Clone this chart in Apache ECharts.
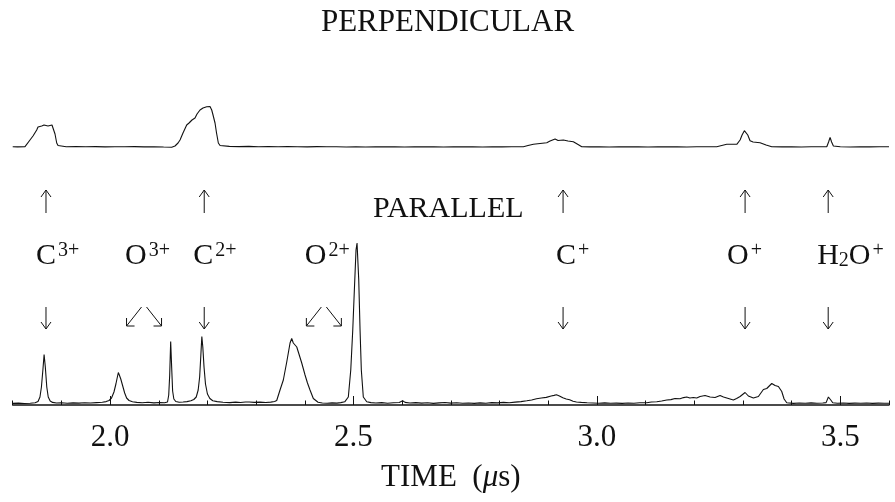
<!DOCTYPE html>
<html>
<head>
<meta charset="utf-8">
<script src="https://cdn.jsdelivr.net/npm/echarts@6/dist/echarts.min.js"></script>
<style>
  html, body { margin: 0; padding: 0; background: #fff; }
  #chart { width: 895px; height: 502px; }
</style>
</head>
<body>
<div id="chart"></div>
<script>
// Ion time-of-flight spectra: parallel (lower trace) and perpendicular (upper trace)
// Times in microseconds, signal in arbitrary units.

const parTime = [
  1.800, 1.812, 1.824, 1.836, 1.846, 1.852, 1.856, 1.859, 1.862, 1.8645, 1.867, 1.870, 1.873, 1.877, 1.882,
  1.890, 1.900, 1.912, 1.924, 1.936, 1.948, 1.960, 1.972, 1.984, 1.992, 1.998, 2.003, 2.008, 2.012, 2.015,
  2.017, 2.019, 2.022, 2.026, 2.030, 2.034, 2.039, 2.046, 2.055, 2.066, 2.078, 2.090, 2.102, 2.112, 2.118,
  2.1205, 2.1225, 2.1245, 2.1265, 2.1285, 2.131, 2.135, 2.142, 2.150, 2.158, 2.166, 2.172, 2.177, 2.181, 2.184,
  2.1865, 2.1885, 2.1905, 2.193, 2.196, 2.200, 2.205, 2.211, 2.220, 2.232, 2.246, 2.258, 2.268, 2.278, 2.281,
  2.286, 2.296, 2.308, 2.320, 2.330, 2.338, 2.3423, 2.3491, 2.3559, 2.3629, 2.3697, 2.3731, 2.3764, 2.3799, 2.3835,
  2.3867, 2.3937, 2.4005, 2.4055, 2.4107, 2.4175, 2.4272, 2.436, 2.446, 2.456, 2.466, 2.474, 2.482, 2.4894, 2.4944,
  2.4985, 2.5018, 2.5052, 2.5073, 2.5108, 2.5135, 2.5161, 2.5202, 2.5272, 2.536, 2.546, 2.558, 2.570, 2.582, 2.594,
  2.601, 2.606, 2.616, 2.628, 2.640, 2.652, 2.664, 2.676, 2.688, 2.700, 2.712, 2.724, 2.736, 2.748, 2.760,
  2.772, 2.784, 2.796, 2.808, 2.820, 2.832, 2.844, 2.856, 2.866, 2.876, 2.886, 2.896, 2.906, 2.912, 2.917,
  2.923, 2.930, 2.937, 2.944, 2.951, 2.958, 2.968, 2.980, 2.992, 3.004, 3.016, 3.028, 3.040, 3.052, 3.064,
  3.076, 3.088, 3.1024, 3.112, 3.123, 3.133, 3.1435, 3.152, 3.1605, 3.1708, 3.178, 3.1846, 3.191, 3.1981, 3.205,
  3.2119, 3.2222, 3.2325, 3.2427, 3.2530, 3.260, 3.2668, 3.2735, 3.2803, 3.287, 3.2941, 3.3044, 3.3111, 3.3214, 3.3317,
  3.3420, 3.3489, 3.354, 3.3592, 3.3660, 3.3728, 3.3797, 3.3845, 3.3900, 3.4036, 3.416, 3.428, 3.440, 3.452, 3.464,
  3.4708, 3.4755, 3.4775, 3.4804, 3.4845, 3.494, 3.506, 3.518, 3.530, 3.542, 3.554, 3.566, 3.578, 3.590, 3.600
];
const parSignal = [
  1.6, 1.9, 1.5, 1.8, 2.2, 3.5, 8, 18, 35, 50.5, 38, 18, 8, 4, 2.6,
  2.0, 2.3, 1.8, 2.1, 1.9, 2.3, 2.0, 2.4, 2.8, 3.4, 4.5, 7, 13, 21, 28,
  32.5, 30, 26, 19, 12, 7, 4.5, 3.2, 2.6, 2.2, 2.7, 2.1, 2.5, 2.3, 3.0,
  10, 30, 63.5, 38, 14, 6, 3.5, 2.8, 3.0, 3.4, 4.2, 5.5, 8, 15, 28,
  50, 68.5, 58, 38, 21, 11, 6.5, 4.2, 3.4, 2.8, 2.4, 2.9, 2.5, 3.0, 4.0,
  3.0, 2.6, 2.9, 2.5, 2.9, 3.5, 4.5, 15, 25, 43, 62, 66.5, 62, 64, 58,
  53, 42, 30, 22, 15, 6.5, 2.8, 2.0, 1.7, 2.1, 1.9, 2.4, 3.2, 8, 35,
  75, 115, 155, 162, 125, 75, 35, 8, 3.2, 2.4, 2.0, 2.4, 1.8, 2.2, 2.5,
  4.2, 2.6, 2.0, 2.4, 1.9, 2.2, 1.6, 2.1, 2.5, 1.9, 2.3, 1.7, 2.0, 1.6, 2.1,
  1.8, 2.4, 2.1, 2.6, 2.3, 2.9, 3.4, 4.2, 5.0, 6.2, 7.0, 7.6, 9.0, 9.6, 10.2,
  9.0, 7.2, 6.0, 5.2, 3.8, 3.0, 2.6, 2.2, 2.0, 1.8, 2.1, 1.7, 1.9, 1.6, 2.0,
  1.7, 2.2, 2.3, 3.0, 3.2, 4.0, 5.0, 5.4, 6.5, 6.2, 7.4, 8.0, 7.0, 7.5, 7.0,
  8.5, 9.5, 8.0, 7.5, 9.5, 8.0, 7.0, 6.0, 5.0, 6.5, 8.5, 12.5, 9.0, 7.0, 8.5,
  15.5, 16.5, 19.0, 21.5, 19.5, 18.5, 13.5, 6.0, 2.2, 1.6, 2.0, 1.7, 2.1, 1.8, 2.0,
  2.4, 8, 9, 5, 2.2, 1.8, 2.0, 1.6, 1.9, 1.7, 2.0, 1.6, 1.9, 1.7, 1.8
];

const perpTime = [
  1.800, 1.810, 1.8253, 1.8294, 1.8355, 1.8417, 1.8493, 1.8520, 1.8561, 1.8596, 1.8643, 1.8684, 1.8725, 1.8766, 1.8807,
  1.8834, 1.8869, 1.8904, 1.8931, 1.8972, 1.910, 1.930, 1.950, 1.970, 1.990, 2.010, 2.030, 2.050, 2.070, 2.090,
  2.110, 2.1266, 2.1334, 2.1396, 2.1437, 2.1498, 2.1574, 2.1622, 2.1683, 2.1745, 2.1786, 2.1848, 2.1909, 2.1950, 2.1985,
  2.2012, 2.2053, 2.2088, 2.2115, 2.2156, 2.2187, 2.2224, 2.2259, 2.2293, 2.245, 2.265, 2.285, 2.305, 2.325, 2.345,
  2.365, 2.385, 2.405, 2.425, 2.445, 2.465, 2.485, 2.505, 2.525, 2.545, 2.565, 2.585, 2.605, 2.625, 2.645,
  2.665, 2.685, 2.705, 2.725, 2.745, 2.765, 2.785, 2.805, 2.825, 2.8489, 2.8586, 2.8695, 2.8832, 2.8970, 2.9038,
  2.9141, 2.9202, 2.9311, 2.9407, 2.9516, 2.9613, 2.9689, 2.985, 3.005, 3.025, 3.045, 3.065, 3.085, 3.105, 3.125,
  3.145, 3.165, 3.185, 3.205, 3.225, 3.2462, 3.2668, 3.2873, 3.2941, 3.2982, 3.3029, 3.3064, 3.3099, 3.3146, 3.3208,
  3.3352, 3.3475, 3.3592, 3.380, 3.400, 3.420, 3.440, 3.460, 3.4722, 3.4759, 3.4790, 3.4821, 3.4858, 3.500, 3.520,
  3.540, 3.560, 3.580, 3.600
];
const perpSignal = [
  3.3, 3.1, 3.4, 5, 10, 14, 20, 23, 22, 24, 25, 25.5, 24, 25.7, 25,
  23.3, 16, 7, 4.5, 3.7, 3.3, 3.5, 3.2, 3.4, 3.1, 3.3, 3.2, 3.4, 3.1, 3.3,
  3.0, 2.8, 4, 7, 10, 17, 25, 27, 30, 32, 36, 40, 42, 44, 43.3,
  43, 43.5, 40, 35, 27, 17, 7, 4.5, 3.7, 3.6, 3.4, 3.6, 3.3, 3.5, 3.2,
  3.4, 3.3, 3.1, 3.4, 3.2, 3.3, 3.0, 3.2, 3.0, 3.3, 3.1, 3.2, 3.0, 3.2, 3.1,
  3.3, 3.0, 3.2, 3.1, 3.3, 3.0, 3.2, 3.1, 3.3, 3.3, 4.5, 5.7, 6.5, 7.3, 9,
  11, 9.5, 10, 9, 8.3, 5.5, 3.3, 3.1, 3.3, 3.0, 3.2, 3.1, 3.3, 3.0, 3.2,
  3.1, 3.3, 3.0, 3.2, 3.3, 3.3, 5.7, 5.7, 10, 15, 19.3, 18, 15, 9.3, 8,
  7.3, 5, 3.3, 3.1, 3.3, 3.0, 3.2, 3.3, 3.3, 8, 12.7, 8, 4, 3.2, 3.0,
  3.3, 3.1, 3.2, 3.3
];

// Axis ticks and labels (microseconds)
const majorTicks = [2.0, 2.5, 3.0, 3.5];
const minorTicks = [1.8, 1.9, 2.1, 2.2, 2.3, 2.4, 2.6, 2.7, 2.8, 2.9, 3.1, 3.2, 3.3, 3.4, 3.6];

// Ion assignments: label, time at which the marker arrows point
const ionLabels = ['{b|C}{s|3+}', '{b|O}{s|3+}', '{b|C}{s|2+}', '{b|O}{s|2+}', '{b|C}{s|+}', '{b|O}{s|+}', '{b|H}{d|2}{b|O}{s|+}'];
const ionTimes = [1.8684, 2.0708, 2.1934, 2.4402, 2.9305, 3.3044, 3.4751];
const ionPair = [false, true, false, true, false, false, false];      // marks two parallel peaks
const ionPerp = [true, false, true, false, true, true, true];         // also marked on the perpendicular trace

// Layout of the annotation text (pixel offsets of each label's left edge from its arrow)
const labelShift = [-10, -19.5, -11, -19.5, -7, -18, -11];

const FONT = 'Liberation Serif';
const INK = '#111';

const chart = echarts.init(document.getElementById('chart'), null, { renderer: 'canvas' });

const parallel = parTime.map((t, i) => [t, parSignal[i]]);
const perpendicular = perpTime.map((t, i) => [t, perpSignal[i]]);

const xBase = { type: 'value', min: 1.8, max: 3.6, splitLine: { show: false } };
const lineStyle = { color: INK, width: 1.1 };

chart.setOption({
  animation: false,
  backgroundColor: '#fff',
  title: {
    text: 'PERPENDICULAR', left: 'center', top: 2,
    textStyle: { fontFamily: FONT, fontSize: 31, fontWeight: 'normal', color: INK }
  },
  grid: [
    { left: 12.7, right: 6, top: 100, height: 50, outerBoundsMode: 'none' },
    { left: 12.7, right: 6, top: 235, bottom: 97, outerBoundsMode: 'none' }
  ],
  xAxis: [
    Object.assign({}, xBase, { gridIndex: 0, show: false }),
    Object.assign({}, xBase, {
      gridIndex: 1, position: 'bottom',
      axisLine: { show: true, lineStyle: { color: INK, width: 1.5 } },
      axisTick: { show: true, inside: true, length: 9, customValues: majorTicks, lineStyle: { color: INK, width: 1 } },
      axisLabel: {
        customValues: majorTicks, formatter: v => v.toFixed(1),
        fontFamily: FONT, fontSize: 31, color: INK, margin: 17
      },
      name: '{a|TIME  (}{i|μ}{a|s)}', nameLocation: 'middle', nameGap: 57,
      nameTextStyle: {
        rich: {
          a: { fontFamily: FONT, fontSize: 31, color: INK },
          i: { fontFamily: FONT, fontSize: 31, fontStyle: 'italic', color: INK }
        }
      }
    }),
    Object.assign({}, xBase, {
      gridIndex: 1, position: 'bottom',
      axisLine: { show: false },
      axisTick: { show: true, inside: true, length: 4.5, customValues: minorTicks, lineStyle: { color: INK, width: 1 } },
      axisLabel: { show: false }
    })
  ],
  yAxis: [
    { type: 'value', gridIndex: 0, min: 0, max: 50, show: false },
    { type: 'value', gridIndex: 1, min: 0, max: 170, show: false }
  ],
  series: [
    { type: 'line', name: 'perpendicular', xAxisIndex: 0, yAxisIndex: 0, data: perpendicular, showSymbol: false, lineStyle: lineStyle, silent: true },
    { type: 'line', name: 'parallel', xAxisIndex: 1, yAxisIndex: 1, data: parallel, showSymbol: false, lineStyle: lineStyle, silent: true }
  ]
});

// Annotation arrows and ion labels, placed from the ion times through the x axis
const stroke = { stroke: INK, lineWidth: 1, fill: null };
function seg(x1, y1, x2, y2) {
  return { type: 'line', shape: { x1, y1, x2, y2 }, style: stroke, silent: true };
}
function poly(points) {
  return { type: 'polyline', shape: { points }, style: stroke, silent: true };
}
function upArrow(x, top, bottom) {
  return [seg(x, bottom, x, top), poly([[x - 5, top + 7], [x, top], [x + 5, top + 7]])];
}
function downArrow(x, top, bottom) {
  return [seg(x, top, x, bottom), poly([[x - 5, bottom - 7], [x, bottom], [x + 5, bottom - 7]])];
}
function diagArrows(m, top, bottom) {
  const l = [seg(m - 3, top, m - 18, bottom), poly([[m - 18, bottom - 8], [m - 18, bottom], [m - 10, bottom]])];
  const r = [seg(m + 2, top, m + 17, bottom), poly([[m + 17, bottom - 8], [m + 17, bottom], [m + 9, bottom]])];
  return l.concat(r);
}

const richLabel = {
  b: { fontFamily: FONT, fontSize: 30, lineHeight: 30, fill: INK },
  s: { fontFamily: FONT, fontSize: 20, lineHeight: 11, verticalAlign: 'top', fill: INK, padding: [0, 0, 0, 2] },
  d: { fontFamily: FONT, fontSize: 20, lineHeight: 11, verticalAlign: 'bottom', fill: INK }
};

const graphics = [];
ionTimes.forEach((t, i) => {
  const x = chart.convertToPixel({ xAxisIndex: 1 }, t);
  if (ionPerp[i]) graphics.push(...upArrow(x, 190, 213));
  if (ionPair[i]) graphics.push(...diagArrows(x, 307, 326));
  else graphics.push(...downArrow(x, 307, 329));
  graphics.push({
    type: 'text', x: x + labelShift[i], y: 256, silent: true,
    style: { text: ionLabels[i], rich: richLabel, align: 'left', verticalAlign: 'middle', fill: INK,
             fontFamily: FONT, fontSize: 30 }
  });
});
graphics.push({
  type: 'text', x: 373, y: 209, silent: true,
  style: { text: 'PARALLEL', fontFamily: FONT, fontSize: 30, fill: INK, align: 'left', verticalAlign: 'middle' }
});

chart.setOption({ graphic: graphics });
</script>
</body>
</html>
